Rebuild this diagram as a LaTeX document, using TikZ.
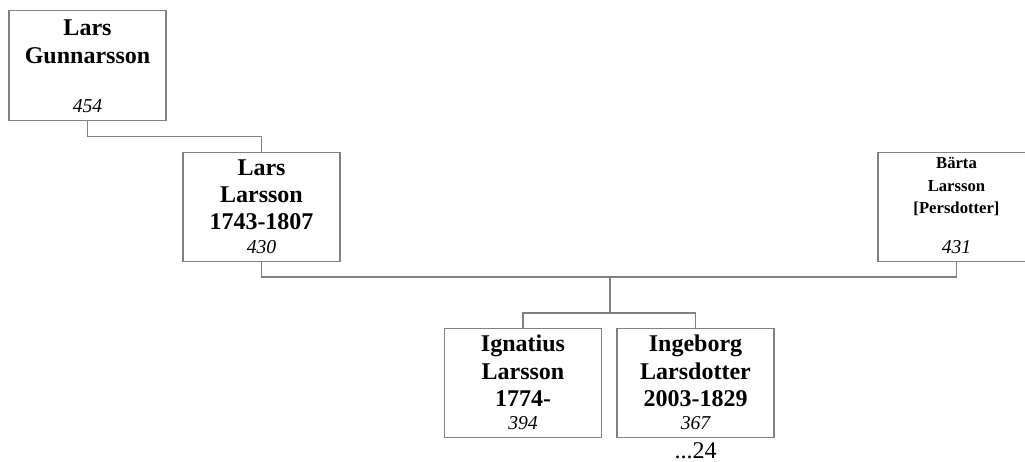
\documentclass[tikz,border=0pt]{standalone}
\usepackage{fontspec}
\setmainfont{Liberation Serif}
\usepackage{tikz}
\usetikzlibrary{calc,positioning}
\definecolor{treeGray}{RGB}{128,128,128}
\definecolor{treeText}{RGB}{0,0,0}

\tikzset{
  pbox/.style={draw=treeGray, line width=0.9pt, fill=white, inner sep=0pt,
    minimum width=117.75pt, minimum height=82pt},
  pname/.style={anchor=north, align=center, inner sep=0pt, text=treeText,
    font=\bfseries\fontsize{18}{20.6}\selectfont},
  pnamesmall/.style={pname, font=\bfseries\fontsize{12.5}{17}\selectfont},
  pnum/.style={anchor=base, inner sep=0pt, text=treeText,
    font=\itshape\fontsize{14.75}{17}\selectfont},
  pmore/.style={anchor=base, inner sep=0pt, text=treeText,
    font=\fontsize{18}{20}\selectfont},
  plink/.style={draw=treeGray, line width=0.9pt}
}

\begin{document}
\begin{tikzpicture}[x=0.75pt, y=-0.75pt]
\clip (0,0) rectangle (1025,461);

% boxes
\node[pbox] (gunnar) at (87.5,65.5) {};
\node[pbox] (lars) at (261.5,207) {};
\node[pbox] (barta) at (956.5,207) {};
\node[pbox] (ignatius) at (523,383) {};
\node[pbox] (ingeborg) at (695.5,383) {};

% names
\node[pname] (gunnarN) at ([yshift=-7pt]gunnar.north) {Lars\\Gunnarsson};
\node[pname] (larsN) at ([yshift=-5.5pt]lars.north) {Lars\\Larsson\\1743-1807};
\node[pnamesmall] (bartaN) at ([yshift=-4pt]barta.north) {Bärta\\Larsson\\{[}Persdotter{]}};
\node[pname] (ignatiusN) at ([yshift=-5.5pt]ignatius.north) {Ignatius\\Larsson\\1774-};
\node[pname] (ingeborgN) at ([yshift=-5.5pt]ingeborg.north) {Ingeborg\\Larsdotter\\2003-1829};

% ids
\node[pnum] (gunnarID) at ([yshift=6.5pt]gunnar.south) {454};
\node[pnum] (larsID) at ([yshift=6.5pt]lars.south) {430};
\node[pnum] (bartaID) at ([yshift=6.5pt]barta.south) {431};
\node[pnum] (ignatiusID) at ([yshift=6.5pt]ignatius.south) {394};
\node[pnum] (ingeborgID) at ([yshift=6.5pt]ingeborg.south) {367};
\node[pmore] (ingeborgMore) at ([yshift=-15pt]ingeborg.south) {...24};

% connectors
\coordinate (couple) at (610,277);
\coordinate (kids) at (610,313);
\draw[plink] (gunnar.south) -- ++(0,16) -| (lars.north);
\draw[plink] (lars.south) |- (couple) -| (barta.south);
\draw[plink] (couple) -- (kids);
\draw[plink] (ignatius.north) |- (kids) -| (ingeborg.north);
\end{tikzpicture}
\end{document}
